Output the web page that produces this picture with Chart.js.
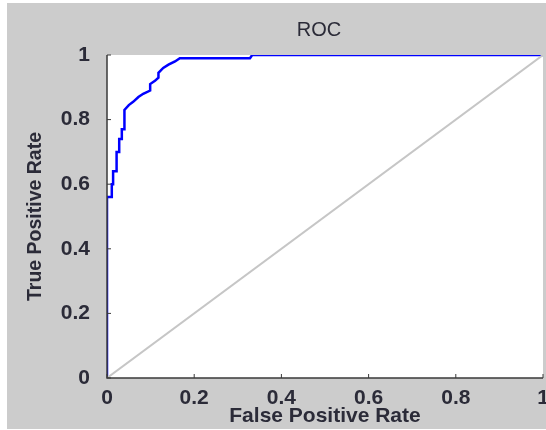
<!DOCTYPE html>
<html lang="en">

<head>
    <meta charset="UTF-8">
    <title>ROC</title>
    <script src="https://cdn.jsdelivr.net/npm/chart.js"></script>
    <style>
        html, body { margin: 0; padding: 0; background: #ffffff; }
        #wrap { width: 546px; height: 430px; }
    </style>
</head>

<body>
    <div id="wrap"><canvas id="rocChart" width="546" height="430"></canvas></div>

    <script>
        // roc curve
        const fpr = [0, 0, 0.011, 0.011, 0.014, 0.014, 0.022, 0.022, 0.028, 0.028, 0.034, 0.034, 0.040, 0.040,
            0.050, 0.060, 0.072, 0.083, 0.099, 0.099, 0.110, 0.118, 0.118, 0.129, 0.141, 0.156, 0.167, 0.328, 0.333, 1];
        const tpr = [0, 0.56, 0.56, 0.60, 0.60, 0.64, 0.64, 0.70, 0.70, 0.74, 0.74, 0.77, 0.77, 0.83,
            0.845, 0.855, 0.87, 0.88, 0.89, 0.91, 0.92, 0.93, 0.945, 0.96, 0.97, 0.98, 0.99, 0.99, 1, 1];
        // chance line
        const diagX = [0, 1];
        const diagY = [0, 1];
        const tickValues = [0, 0.2, 0.4, 0.6, 0.8, 1];
        const tickLabels = ['0', '0.2', '0.4', '0.6', '0.8', '1'];
        const chartTitle = 'ROC';

        const toPoints = (xs, ys) => xs.map((x, i) => ({ x: x, y: ys[i] }));
        const textColor = '#2b2b38';

        // gray figure background, white axes box, title over the box
        const backdrop = {
            id: 'backdrop',
            beforeDraw(chart) {
                const c = chart.ctx;
                const a = chart.chartArea;
                c.save();
                c.fillStyle = '#cccccc';
                c.fillRect(7, 3, chart.width - 7, chart.height - 4);
                c.fillStyle = '#ffffff';
                c.fillRect(a.left, a.top, a.right - a.left, a.bottom - a.top);
                c.fillStyle = textColor;
                c.font = '20px "Liberation Sans"';
                c.textAlign = 'center';
                c.textBaseline = 'middle';
                c.fillText(chartTitle, (a.left + a.right) / 2 - 6, 30);
                c.restore();
            },
            afterDraw(chart) {
                // box edges and inward tick marks
                const c = chart.ctx;
                const a = chart.chartArea;
                const xs = chart.scales.x;
                const ys = chart.scales.y;
                c.save();
                c.strokeStyle = '#3a3a3a';
                c.lineWidth = 1.5;
                c.beginPath();
                c.moveTo(a.left, a.top);
                c.lineTo(a.left, a.bottom);
                c.lineTo(a.right, a.bottom);
                c.stroke();
                c.lineWidth = 1;
                c.beginPath();
                tickValues.forEach(v => {
                    const px = xs.getPixelForValue(v);
                    c.moveTo(px, a.bottom);
                    c.lineTo(px, a.bottom - 4);
                    const py = ys.getPixelForValue(v);
                    c.moveTo(a.left, py);
                    c.lineTo(a.left + 4, py);
                });
                c.stroke();
                c.restore();
            }
        };

        const ctx = document.getElementById('rocChart').getContext('2d');
        const rocChart = new Chart(ctx, {
            type: 'scatter',
            data: {
                datasets: [
                    {
                        label: 'diagonal',
                        data: toPoints(diagX, diagY),
                        showLine: true,
                        borderColor: '#c6c6c6',
                        borderWidth: 2,
                        pointRadius: 0,
                    },
                    {
                        label: 'ROC',
                        data: toPoints(fpr, tpr),
                        showLine: true,
                        borderColor: '#0000ff',
                        borderWidth: 2.5,
                        pointRadius: 0,
                    },
                ],
            },
            options: {
                responsive: false,
                animation: false,
                layout: { padding: { left: 7, top: 55, right: 3, bottom: 1 } },
                plugins: {
                    legend: { display: false },
                    tooltip: { enabled: false },
                    title: { display: false },
                },
                scales: {
                    x: {
                        type: 'linear',
                        min: 0,
                        max: 1,
                        afterBuildTicks: (s) => { s.ticks = tickValues.map(v => ({ value: v })); },
                        afterFit: (s) => { s.height = 51; s.paddingLeft = 0; s.paddingRight = 0; },
                        grid: { display: false },
                        border: { display: false },
                        ticks: {
                            color: textColor,
                            padding: 0,
                            maxRotation: 0,
                            callback: (v, i) => tickLabels[i],
                            font: { family: 'Liberation Sans', size: 21, weight: 'bold' },
                        },
                        title: {
                            display: true,
                            text: 'False Positive Rate',
                            color: textColor,
                            padding: { top: 0, bottom: 0 },
                            font: { family: 'Liberation Sans', size: 21, weight: 'bold' },
                        },
                    },
                    y: {
                        type: 'linear',
                        min: 0,
                        max: 1,
                        afterBuildTicks: (s) => { s.ticks = tickValues.map(v => ({ value: v })); },
                        afterFit: (s) => { s.width = 100; s.paddingTop = 0; s.paddingBottom = 0; },
                        grid: { display: false },
                        border: { display: false },
                        ticks: {
                            color: textColor,
                            padding: 9,
                            callback: (v, i) => tickLabels[i],
                            font: { family: 'Liberation Sans', size: 21, weight: 'bold' },
                        },
                        title: {
                            display: true,
                            text: 'True Positive Rate',
                            color: textColor,
                            padding: { top: 17, bottom: 0 },
                            font: { family: 'Liberation Sans', size: 19.5, weight: 'bold' },
                        },
                    },
                },
            },
            plugins: [backdrop],
        });
    </script>

</body>

</html>
